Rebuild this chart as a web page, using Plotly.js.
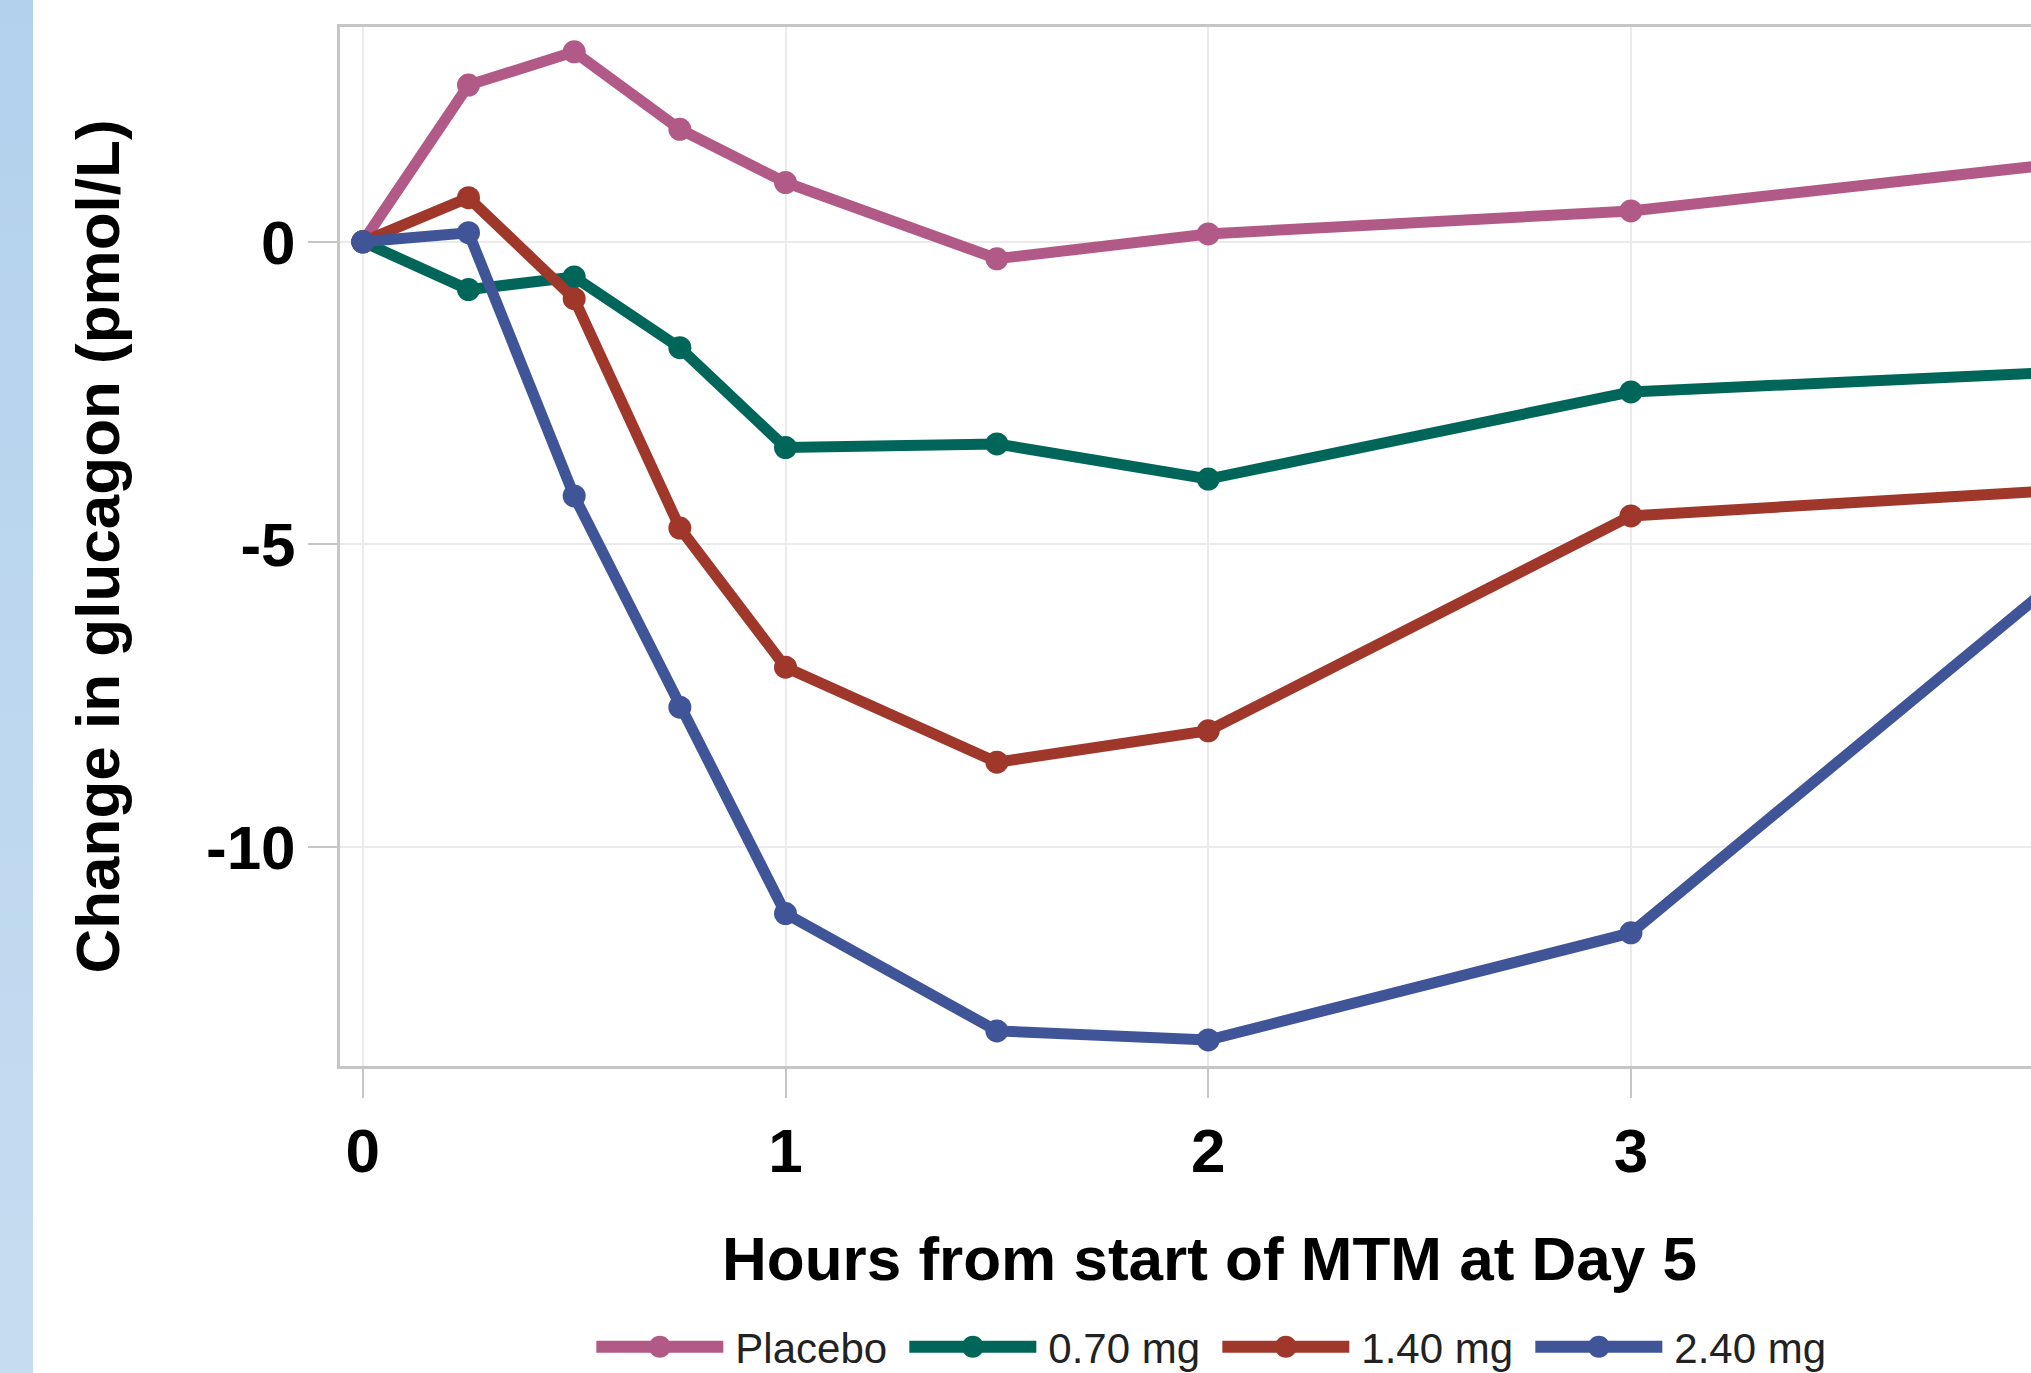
<!DOCTYPE html>
<html>
<head>
<meta charset="utf-8">
<script src="https://cdn.plot.ly/plotly-3.0.1.min.js"></script>
<style>
  html, body { margin: 0; padding: 0; width: 2031px; height: 1373px; overflow: hidden; background: #ffffff; }
  #wrap { position: absolute; left: 0; top: 0; width: 2031px; height: 1373px; overflow: hidden;
          background: linear-gradient(to bottom, #b3d1ed 0%, #c6ddf1 100%) no-repeat; background-size: 33px 100%; }
  #chart { position: absolute; left: 33px; top: 0; width: 2056px; height: 1420px; background: #ffffff; }
</style>
</head>
<body>
<div id="wrap"><div id="chart"></div></div>
<script>
// Data (hours from start of MTM at Day 5; change in glucagon, pmol/L)
const hours = [0, 0.25, 0.5, 0.75, 1, 1.5, 2, 3, 4];
const seriesNames = ["Placebo", "0.70 mg", "1.40 mg", "2.40 mg"];
const placebo = [0, 2.59, 3.14, 1.86, 0.98, -0.28, 0.13, 0.51, 1.28];
const dose070 = [0, -0.79, -0.58, -1.75, -3.40, -3.34, -3.92, -2.48, -2.16];
const dose140 = [0, 0.73, -0.94, -4.73, -7.03, -8.60, -8.08, -4.53, -4.11];
const dose240 = [0, 0.15, -4.20, -7.69, -11.10, -13.04, -13.19, -11.42, -5.65];
const yTicks = [0, -5, -10];
const xTicks = [0, 1, 2, 3];

const colors = ["#b25a87", "#00665a", "#a0372b", "#3f5598"];
const values = [placebo, dose070, dose140, dose240];

const traces = values.map((v, i) => ({
  x: hours, y: v, name: seriesNames[i], type: "scatter", mode: "lines+markers",
  line: { color: colors[i], width: 11 },
  marker: { color: colors[i], size: 23, symbol: "circle" },
  cliponaxis: true
}));

const FONT = "Liberation Sans, Arial, Helvetica, sans-serif";

const layout = {
  width: 2056, height: 1420,
  margin: { l: 307, r: 10, t: 27, b: 354 },
  paper_bgcolor: "#ffffff", plot_bgcolor: "#ffffff",
  showlegend: true,
  legend: {
    orientation: "h", x: 0.5045, xanchor: "center", y: -0.2377, yanchor: "top",
    font: { family: FONT, size: 42, color: "#222222" },
    itemwidth: 127, entrywidth: 171, entrywidthmode: "pixels",
    tracegroupgap: 0, bgcolor: "rgba(0,0,0,0)"
  },
  xaxis: {
    range: [-0.054, 4.06], tickvals: xTicks, ticktext: xTicks.map(String),
    showgrid: true, gridcolor: "#ebebeb", gridwidth: 2, zeroline: false,
    showline: true, linecolor: "#c6c6c6", linewidth: 3, mirror: true,
    ticks: "outside", ticklen: 29, tickwidth: 2, tickcolor: "#c6c6c6",
    tickfont: { family: FONT, size: 62, color: "#000000", weight: "bold" },
    title: { text: "Hours from start of MTM at Day 5", standoff: 53,
             font: { family: FONT, size: 62, color: "#000000", weight: "bold" } },
    automargin: false
  },
  yaxis: {
    range: [-13.62, 3.55], tickvals: yTicks, ticktext: yTicks.map(String),
    showgrid: true, gridcolor: "#ebebeb", gridwidth: 2, zeroline: false,
    showline: true, linecolor: "#c6c6c6", linewidth: 3, mirror: true,
    ticks: "outside", ticklen: 29, tickwidth: 2, tickcolor: "#c6c6c6",
    tickfont: { family: FONT, size: 62, color: "#000000", weight: "bold" },
    title: { text: "Change in glucagon (pmol/L)", standoff: 67,
             font: { family: FONT, size: 62, color: "#000000", weight: "bold" } },
    automargin: false
  }
};

Plotly.newPlot("chart", traces, layout, { staticPlot: true, displayModeBar: false }).then(gd => {
  // legend styling: thicker symbol lines, larger symbol markers, small gap before text
  gd.querySelectorAll(".legend .legendlines path").forEach(p => { p.style.strokeWidth = "12px"; });
  gd.querySelectorAll(".legend .legendpoints path").forEach(p => {
    p.setAttribute("d", "M11,0A11,11 0 1,1 0,-11A11,11 0 0,1 11,0Z");
  });
  gd.querySelectorAll(".legend .legendtext").forEach(t => {
    const x = parseFloat(t.getAttribute("x")) || 0;
    t.setAttribute("x", x + 7);
  });
});
</script>
</body>
</html>
